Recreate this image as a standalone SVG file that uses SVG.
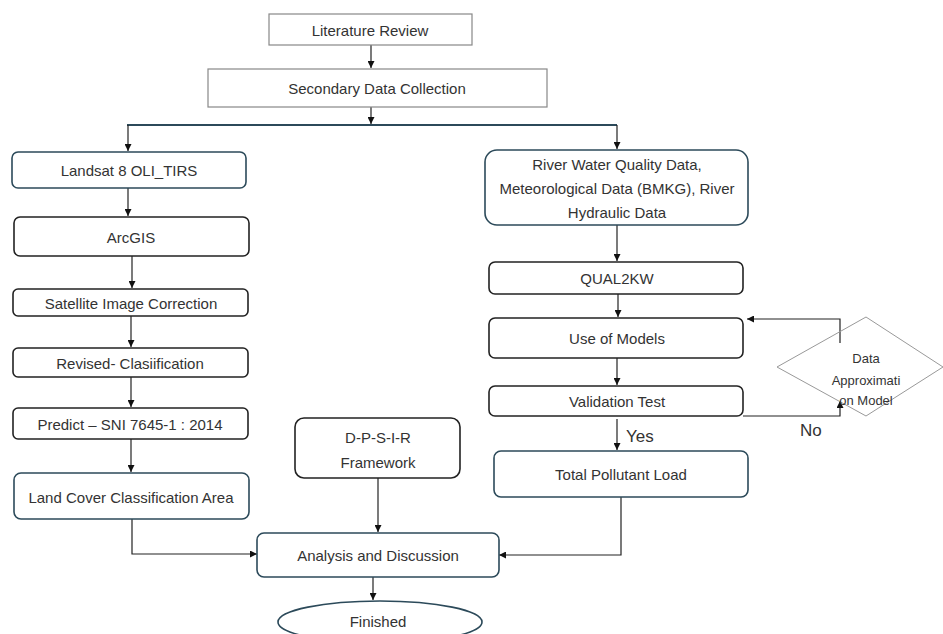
<svg xmlns="http://www.w3.org/2000/svg" width="943" height="634" viewBox="0 0 943 634">
<style>
text{font-family:"Liberation Sans",Arial,sans-serif;font-size:15px;fill:#333;text-anchor:middle;dominant-baseline:central}
.sq{fill:#fff;stroke:#888;stroke-width:1.2}
.bk{fill:#fff;stroke:#222;stroke-width:1.6}
.tl{fill:#fff;stroke:#2c4a5a;stroke-width:1.6}
.dm{fill:#fff;stroke:#999;stroke-width:1}
.ln{fill:none;stroke:#222;stroke-width:1.2}
.lg{fill:none;stroke:#555;stroke-width:1.5}
.big{font-size:17px;text-anchor:start}
.sm{font-size:13px}
</style>
<defs>
<marker id="ah" viewBox="0 0 10 10" refX="10" refY="5" markerWidth="7" markerHeight="7" markerUnits="userSpaceOnUse" orient="auto">
<path d="M0,0 L10,5 L0,10 z" fill="#111"/>
</marker>
</defs>
<rect width="943" height="634" fill="#fff"/>
<g id="connectors">
<line class="ln" x1="371" y1="45" x2="371" y2="68" marker-end="url(#ah)"/>
<line class="ln" x1="371" y1="107" x2="371" y2="124" marker-end="url(#ah)"/>
<line x1="127" y1="125" x2="617" y2="125" stroke="#2c4a5a" stroke-width="1.8"/>
<line class="ln" x1="128" y1="125" x2="128" y2="151" marker-end="url(#ah)"/>
<line class="ln" x1="617" y1="125" x2="617" y2="149" marker-end="url(#ah)"/>
<line class="ln" x1="128" y1="188" x2="128" y2="216" marker-end="url(#ah)"/>
<line class="ln" x1="132" y1="256" x2="132" y2="288" marker-end="url(#ah)"/>
<line class="ln" x1="131" y1="316" x2="131" y2="347" marker-end="url(#ah)"/>
<line class="ln" x1="131" y1="377" x2="131" y2="407" marker-end="url(#ah)"/>
<line class="ln" x1="131" y1="439" x2="131" y2="472" marker-end="url(#ah)"/>
<polyline class="ln" points="132,519 132,554 257,554" marker-end="url(#ah)"/>
<line class="ln" x1="378" y1="478" x2="378" y2="532" marker-end="url(#ah)"/>
<polyline class="ln" points="621,497 621,555 499,555" marker-end="url(#ah)"/>
<line class="ln" x1="373" y1="577" x2="373" y2="600" marker-end="url(#ah)"/>
<line class="ln" x1="617" y1="225" x2="617" y2="261" marker-end="url(#ah)"/>
<line class="ln" x1="618" y1="294" x2="618" y2="317" marker-end="url(#ah)"/>
<line class="ln" x1="617" y1="358" x2="617" y2="385" marker-end="url(#ah)"/>
<line class="ln" x1="617" y1="419" x2="617" y2="450" marker-end="url(#ah)"/>
<polyline class="ln" points="743,416 840,416 840,401" marker-end="url(#ah)"/>
<polyline class="ln" points="840,343 840,319 747,319" marker-end="url(#ah)"/>
<text class="big" x="626" y="436">Yes</text>
<text class="big" x="800" y="430">No</text>
</g>
<g id="literature-review"><rect class="sq" x="269" y="14" width="203" height="31"/><text x="370" y="30">Literature Review</text></g>
<g id="secondary-data"><rect class="sq" x="208" y="69" width="339" height="38"/><text x="377" y="88">Secondary Data Collection</text></g>
<g id="landsat"><rect class="tl" x="12" y="152" width="234" height="36" rx="6"/><text x="129" y="170">Landsat 8 OLI_TIRS</text></g>
<g id="arcgis"><rect class="bk" x="14" y="217" width="235" height="39" rx="6"/><text x="131" y="237">ArcGIS</text></g>
<g id="satellite"><rect class="bk" x="13" y="289" width="235" height="27" rx="5"/><text x="131" y="303">Satellite Image Correction</text></g>
<g id="revised"><rect class="bk" x="13" y="348" width="235" height="29" rx="5"/><text x="130" y="363">Revised- Clasiification</text></g>
<g id="predict"><rect class="bk" x="13" y="408" width="235" height="31" rx="5"/><text x="130" y="424">Predict – SNI 7645-1 : 2014</text></g>
<g id="land-cover"><rect class="tl" x="14" y="473" width="235" height="46" rx="7"/><text x="131" y="497">Land Cover Classification Area</text></g>
<g id="dpsir"><rect class="bk" x="295" y="418" width="165" height="60" rx="9"/><text x="378" y="437">D-P-S-I-R</text><text x="378" y="462">Framework</text></g>
<g id="analysis"><rect class="tl" x="257" y="533" width="242" height="44" rx="7"/><text x="378" y="555">Analysis and Discussion</text></g>
<g id="finished"><ellipse class="tl" cx="380" cy="622" rx="102" ry="21"/><text x="378" y="621">Finished</text></g>
<g id="river-data"><rect class="tl" x="485" y="150" width="263" height="75" rx="12"/><text x="617" y="164">River Water Quality Data,</text><text x="617" y="188">Meteorological Data (BMKG), River</text><text x="617" y="212">Hydraulic Data</text></g>
<g id="qual2kw"><rect class="bk" x="489" y="262" width="254" height="32" rx="6"/><text x="617" y="278">QUAL2KW</text></g>
<g id="use-of-models"><rect class="bk" x="489" y="318" width="254" height="40" rx="6"/><text x="617" y="338">Use of Models</text></g>
<g id="validation"><rect class="bk" x="489" y="386" width="254" height="30" rx="6"/><text x="617" y="401">Validation Test</text></g>
<g id="total-pollutant"><rect class="tl" x="494" y="451" width="254" height="46" rx="7"/><text x="621" y="474">Total Pollutant Load</text></g>
<g id="data-approx"><polygon class="dm" points="866,317 943,367 866,416 777,367" fill-opacity="0"/><text class="sm" x="866" y="358">Data</text><text class="sm" x="866" y="380">Approximati</text><text class="sm" x="866" y="400">on Model</text></g>
</svg>
